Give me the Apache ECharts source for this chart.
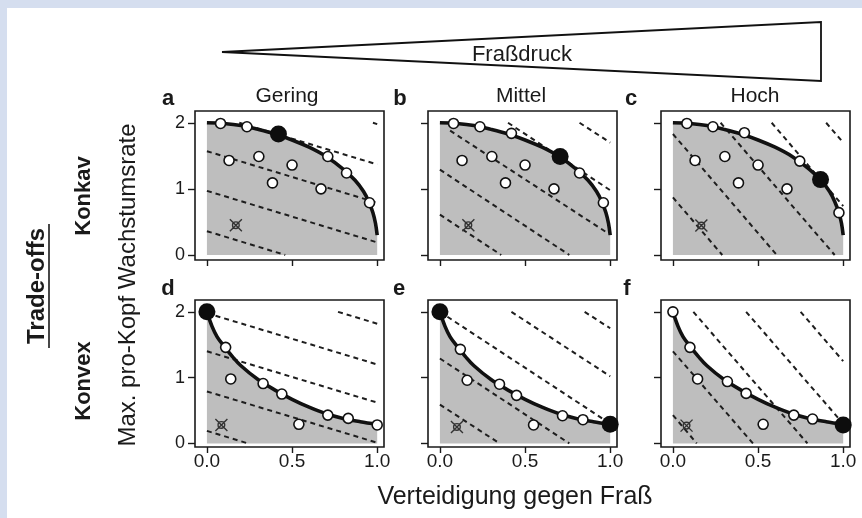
<!DOCTYPE html>
<html><head><meta charset="utf-8">
<script src="https://cdn.jsdelivr.net/npm/echarts@6/dist/echarts.min.js"></script>
<style>html,body{margin:0;padding:0;background:#fff}#c{width:862px;height:518px}</style>
</head><body><div id="c"></div><script>
// ---------- data ----------
const xTickValues = [0, 0.5, 1];
const xTickLabels = ['0.0', '0.5', '1.0'];
const yTickValues = [0, 1, 2];
const yTickLabels = ['0', '1', '2'];
const columnTitles = ['Gering', 'Mittel', 'Hoch'];
const rowTitles = ['Konkav', 'Konvex'];
const panelLetters = ['a', 'b', 'c', 'd', 'e', 'f'];
const pressureLabel = 'Fraßdruck';
const groupLabel = 'Trade-offs';
const yTitle = 'Max. pro-Kopf Wachstumsrate';
const xTitle = 'Verteidigung gegen Fraß';

const concaveFrontier = [[0,2],[0.1,1.99],[0.2,1.96],[0.3,1.9],[0.4,1.83],[0.5,1.74],[0.6,1.63],[0.7,1.49],[0.8,1.3],[0.87,1.13],[0.92,0.96],[0.95,0.81],[0.975,0.64],[0.99,0.48],[1.0,0.3]];
const convexFrontier = [[0,2],[0.03,1.78],[0.06,1.62],[0.1,1.48],[0.15,1.32],[0.2,1.18],[0.3,0.97],[0.4,0.81],[0.5,0.67],[0.6,0.55],[0.7,0.45],[0.8,0.38],[0.9,0.33],[1.0,0.29]];

const concaveInterior = [[0.13,1.43],[0.305,1.49],[0.5,1.36],[0.385,1.09],[0.67,1.0]];

const openA = [[0.08,1.99],[0.235,1.94],[0.71,1.49],[0.82,1.24],[0.955,0.79]];
const optimumA = [[0.42,1.83]];
const undefendedA = [[0.17,0.45]];
const isoclinesA = [[[0,0.36],[0.46,0]],[[0,0.97],[1,0.19]],[[0,1.57],[1,0.79]],[[0.19,2.0],[1,1.37]],[[0.975,2.0],[1,1.98]]];

const openB = [[0.08,1.99],[0.235,1.94],[0.42,1.84],[0.82,1.24],[0.96,0.79]];
const optimumB = [[0.706,1.49]];
const undefendedB = [[0.167,0.45]];
const isoclinesB = [[[0,0.61],[0.36,0]],[[0,1.29],[0.76,0]],[[0.06,1.88],[0.98,0.34]],[[0.40,2.0],[1,0.98]],[[0.82,2.0],[1,1.7]]];

const openC = [[0.082,1.99],[0.235,1.94],[0.42,1.85],[0.745,1.42],[0.975,0.64]];
const optimumC = [[0.867,1.14]];
const undefendedC = [[0.167,0.445]];
const isoclinesC = [[[0,0.87],[0.29,0]],[[0,1.83],[0.61,0]],[[0.28,2.0],[0.95,0]],[[0.58,2.0],[1,0.74]],[[0.9,2.0],[1,1.7]]];

const openD = [[0.11,1.46],[0.33,0.91],[0.44,0.75],[0.71,0.43],[0.83,0.38],[1.0,0.28]];
const optimumD = [[0,2]];
const interiorD = [[0.14,0.98],[0.54,0.29]];
const undefendedD = [[0.085,0.28]];
const isoclinesD = [[[0,0.19],[0.24,0]],[[0,0.79],[1,0.01]],[[0,1.40],[1,0.62]],[[0,1.98],[1,1.2]],[[0.77,2.0],[1,1.82]]];

const openE = [[0.12,1.43],[0.35,0.9],[0.45,0.73],[0.72,0.42],[0.84,0.36]];
const optimumE = [[0,2],[1,0.29]];
const interiorE = [[0.16,0.96],[0.55,0.28]];
const undefendedE = [[0.1,0.25]];
const isoclinesE = [[[0,0.59],[0.35,0]],[[0,1.29],[0.76,0]],[[0,2.0],[1,0.3]],[[0.42,2.0],[1,1.02]],[[0.85,2.0],[1,1.75]]];

const openF = [[0,2],[0.10,1.46],[0.32,0.94],[0.43,0.76],[0.71,0.43],[0.82,0.37]];
const optimumF = [[1,0.28]];
const interiorF = [[0.145,0.98],[0.53,0.29]];
const undefendedF = [[0.08,0.27]];
const isoclinesF = [[[0,0.43],[0.14,0]],[[0,1.40],[0.47,0]],[[0.12,2.0],[0.79,0]],[[0.43,2.0],[1,0.3]],[[0.75,2.0],[1,1.25]]];

const panels = [
  {frontier: concaveFrontier, open: openA, optimum: optimumA, interior: concaveInterior, undefended: undefendedA, isoclines: isoclinesA},
  {frontier: concaveFrontier, open: openB, optimum: optimumB, interior: concaveInterior, undefended: undefendedB, isoclines: isoclinesB},
  {frontier: concaveFrontier, open: openC, optimum: optimumC, interior: concaveInterior, undefended: undefendedC, isoclines: isoclinesC},
  {frontier: convexFrontier, open: openD, optimum: optimumD, interior: interiorD, undefended: undefendedD, isoclines: isoclinesD},
  {frontier: convexFrontier, open: openE, optimum: optimumE, interior: interiorE, undefended: undefendedE, isoclines: isoclinesE},
  {frontier: convexFrontier, open: openF, optimum: optimumF, interior: interiorF, undefended: undefendedF, isoclines: isoclinesF}
];

// ---------- layout / style ----------
const FONT = 'Liberation Sans, Arial, Helvetica, sans-serif';
const INK = '#1a1a1a';
const colLeft = [195, 428, 661];
const rowTop = [111, 300];
const rowHeight = [149, 147];
const rowY = [[-0.076, 2.178], [-0.055, 2.18]];
const gridWidth = 189;
const crossedCircle = 'path://M1,1L19,19M19,1L1,19M15,10A5,5,0,1,1,5,10A5,5,0,1,1,15,10Z';

const grids = [], xAxes = [], yAxes = [], series = [];
panels.forEach((p, i) => {
  const r = Math.floor(i / 3), c = i % 3;
  grids.push({left: colLeft[c], top: rowTop[r], width: gridWidth, height: rowHeight[r],
    show: true, borderColor: INK, borderWidth: 1.6, backgroundColor: 'transparent', containLabel: false});
  xAxes.push({type: 'value', gridIndex: i, min: -0.07, max: 1.04, position: 'bottom',
    axisLine: {show: false, onZero: false}, splitLine: {show: false},
    axisTick: {show: true, inside: false, length: 6, customValues: xTickValues, lineStyle: {color: INK, width: 1.4}},
    axisLabel: {show: r === 1, customValues: xTickValues, margin: 5, fontSize: 19, fontFamily: FONT, color: INK,
      formatter: v => xTickLabels[xTickValues.indexOf(v)] ?? ''}});
  yAxes.push({type: 'value', gridIndex: i, min: rowY[r][0], max: rowY[r][1], position: 'left',
    axisLine: {show: false, onZero: false}, splitLine: {show: false},
    axisTick: {show: true, inside: false, length: 7, customValues: yTickValues, lineStyle: {color: INK, width: 1.4}},
    axisLabel: {show: c === 0, customValues: yTickValues, margin: 10, fontSize: 18, fontFamily: FONT, color: INK,
      formatter: v => yTickLabels[yTickValues.indexOf(v)] ?? ''}});
  const ax = {xAxisIndex: i, yAxisIndex: i, silent: true, animation: false};
  series.push(Object.assign({type: 'line', data: p.frontier, smooth: 0.35, symbol: 'none',
    lineStyle: {width: 0, opacity: 0}, areaStyle: {color: '#bebebe', opacity: 1}, z: 1}, ax));
  p.isoclines.forEach(seg => {
    series.push(Object.assign({type: 'line', data: seg, symbol: 'none', clip: true,
      lineStyle: {color: '#1e1e1e', width: 2, type: [5, 4]}, z: 2}, ax));
  });
  series.push(Object.assign({type: 'line', data: p.frontier, smooth: 0.35, symbol: 'none',
    lineStyle: {color: '#111', width: 3.6}, z: 3}, ax));
  series.push(Object.assign({type: 'scatter', data: p.interior.concat(p.open), symbol: 'circle', symbolSize: 10,
    itemStyle: {color: '#fff', borderColor: '#111', borderWidth: 1.6, opacity: 1}, z: 4}, ax));
  series.push(Object.assign({type: 'scatter', data: p.optimum, symbol: 'circle', symbolSize: 17,
    itemStyle: {color: '#0d0d0d', opacity: 1}, z: 5}, ax));
  series.push(Object.assign({type: 'scatter', data: p.undefended, symbol: crossedCircle, symbolSize: 12,
    itemStyle: {color: 'rgba(0,0,0,0)', borderColor: '#333', borderWidth: 1.4, opacity: 1}, z: 4}, ax));
});

const txt = (x, y, text, size, weight, rot) => ({type: 'text', x, y, rotation: rot || 0, silent: true,
  style: {text, fontSize: size, fontWeight: weight || 'normal', fontFamily: FONT, fill: INK, align: 'center', verticalAlign: 'middle'}});

const letterPos = [[168,99],[400,99],[631,99],[168,289],[399,289],[627,289]];
const colTitlePos = [[287,96],[521,96],[755,96]];

const graphic = [
  {type: 'rect', shape: {x: 0, y: 0, width: 862, height: 8}, style: {fill: '#d5deef'}, silent: true},
  {type: 'rect', shape: {x: 0, y: 0, width: 7, height: 518}, style: {fill: '#d5deef'}, silent: true},
  {type: 'polygon', shape: {points: [[222,52],[821,22],[821,81]]}, style: {fill: '#fff', stroke: '#111', lineWidth: 1.8}, silent: true},
  txt(522, 55, pressureLabel, 22),
  txt(84, 196, rowTitles[0], 22, 'bold', Math.PI / 2),
  txt(84, 381, rowTitles[1], 22, 'bold', Math.PI / 2),
  txt(37, 286, groupLabel, 24, 'bold', Math.PI / 2),
  {type: 'line', shape: {x1: 49, y1: 224, x2: 49, y2: 348}, style: {stroke: INK, lineWidth: 1.6}, silent: true},
  txt(128, 285, yTitle, 24, 'normal', Math.PI / 2),
  txt(515, 497, xTitle, 25)
];
panelLetters.forEach((l, i) => graphic.push(txt(letterPos[i][0], letterPos[i][1], l, 22, 'bold')));
columnTitles.forEach((t, i) => graphic.push(txt(colTitlePos[i][0], colTitlePos[i][1], t, 21)));

const chart = echarts.init(document.getElementById('c'), null, {renderer: 'canvas'});
chart.setOption({animation: false, backgroundColor: '#fff', grid: grids, xAxis: xAxes, yAxis: yAxes, series, graphic});
</script></body></html>
